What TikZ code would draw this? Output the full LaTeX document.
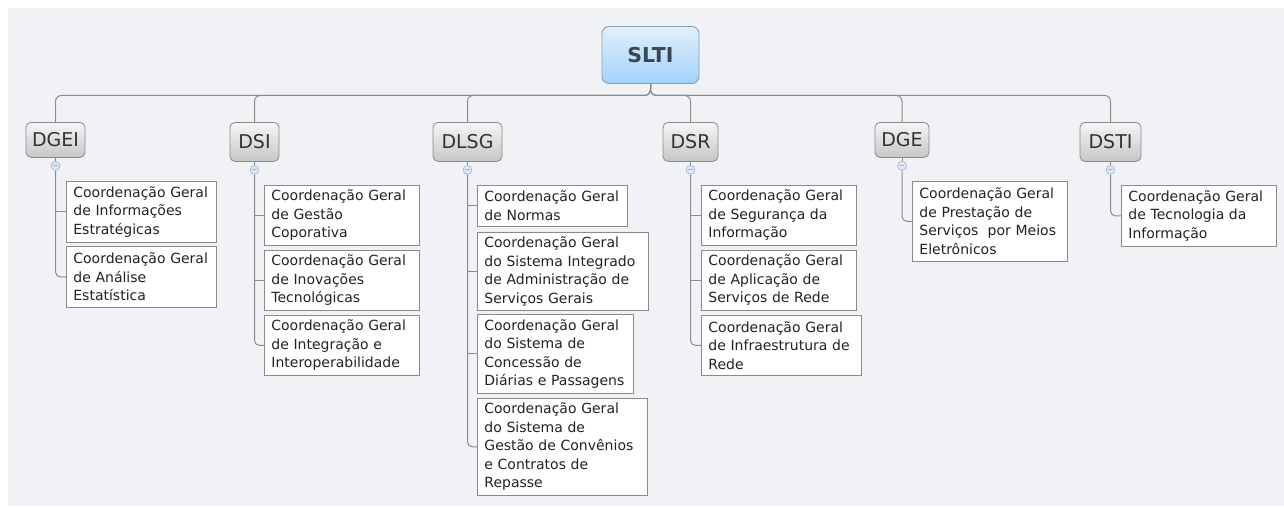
\documentclass[tikz,border=0pt]{standalone}
\usepackage{fontspec}
\setmainfont{DejaVu Sans}
\usetikzlibrary{calc}
\definecolor{bgc}{HTML}{F1F2F6}
\definecolor{linec}{HTML}{8C8C8C}
\definecolor{leafb}{HTML}{8A8A8A}
\definecolor{leaft}{HTML}{222222}
\definecolor{headt}{HTML}{333333}
\definecolor{headtop}{HTML}{F6F6F6}
\definecolor{headbot}{HTML}{C6C6C6}
\definecolor{headb}{HTML}{8A8A8A}
\definecolor{roottop}{HTML}{E0F0FC}
\definecolor{rootbot}{HTML}{A3D2FA}
\definecolor{rootb}{HTML}{8C9FB2}
\definecolor{roott}{HTML}{3A4754}
\definecolor{collf}{HTML}{DCE8F6}
\definecolor{collb}{HTML}{9AB5D6}
\begin{document}
\begin{tikzpicture}[x=1pt,y=-1pt,
  rootbox/.style={draw=rootb, line width=0.9pt, rounded corners=7pt, top color=roottop, bottom color=rootbot,
    minimum width=97pt, minimum height=57pt, inner sep=0pt, text=roott,
    font=\fontsize{20.5pt}{23pt}\selectfont\bfseries},
  headbox/.style={draw=headb, line width=0.8pt, rounded corners=5pt, top color=headtop, bottom color=headbot,
    inner sep=0pt, anchor=north, text=headt, font=\fontsize{19pt}{21pt}\selectfont},
  leaf/.style={draw=leafb, line width=0.8pt, fill=white, anchor=north west, inner xsep=7pt, inner ysep=0pt,
    align=left, text=leaft, font=\fontsize{14pt}{18.5pt}\selectfont},
  conn/.style={draw=linec, line width=1pt},
  coll/.style={circle, draw=collb, fill=collf, line width=0.6pt, minimum size=9pt, inner sep=0pt,
    path picture={\draw[collb, line width=0.8pt] ([xshift=-2.3pt]path picture bounding box.center) -- ([xshift=2.3pt]path picture bounding box.center);}}
]
\useasboundingbox (0,0) rectangle (1284,506);
\fill[white] (0,0) rectangle (1284,506);
\fill[bgc] (8,8) rectangle (1284,506);

% root
\node[rootbox] (root) at (650.5,55) {SLTI};

% headings
\node[headbox, minimum width=59pt, minimum height=35pt] (h1) at (55.5,122) {DGEI};
\node[headbox, minimum width=49pt, minimum height=39pt] (h2) at (254.5,122) {DSI};
\node[headbox, minimum width=69pt, minimum height=39pt] (h3) at (467.5,122) {DLSG};
\node[headbox, minimum width=55pt, minimum height=39pt] (h4) at (690.5,122) {DSR};
\node[headbox, minimum width=54pt, minimum height=35pt] (h5) at (902,122) {DGE};
\node[headbox, minimum width=61pt, minimum height=39pt] (h6) at (1110.5,122) {DSTI};

% root connectors
\foreach \h in {h1,h2,h3,h4,h5,h6}{
  \draw[conn, rounded corners=6pt] (root.south) -- ++(0,11.5) -| (\h.north);
}

% collapse buttons
\foreach \h/\c in {h1/c1,h2/c2,h3/c3,h4/c4,h5/c5,h6/c6}{
  \node[coll] (\c) at ($(\h.south)+(0,8)$) {};
  \draw[conn] (\h.south) -- (\c.north);
}

% DGEI leaves
\node[leaf, text width=136pt, minimum height=61pt] (a1) at (66,181) {Coordenação~Geral\\de~Informações\\Estratégicas};
\node[leaf, text width=136pt, minimum height=61pt] (a2) at (66,246) {Coordenação~Geral\\de~Análise\\Estatística};
% DSI leaves
\node[leaf, text width=141pt, minimum height=60pt] (b1) at (264,185) {Coordenação~Geral\\de~Gestão\\Coporativa};
\node[leaf, text width=141pt, minimum height=60pt] (b2) at (264,250) {Coordenação~Geral\\de~Inovações\\Tecnológicas};
\node[leaf, text width=141pt, minimum height=60pt] (b3) at (264,315) {Coordenação~Geral\\de~Integração~e\\Interoperabilidade};
% DLSG leaves
\node[leaf, text width=136pt, minimum height=41pt] (d1) at (477,185) {Coordenação~Geral\\de~Normas};
\node[leaf, text width=157pt, minimum height=78pt] (d2) at (477,232) {Coordenação~Geral\\do~Sistema~Integrado\\de~Administração~de\\Serviços~Gerais};
\node[leaf, text width=142pt, minimum height=79pt] (d3) at (477,314) {Coordenação~Geral\\do~Sistema~de\\Concessão~de\\Diárias~e~Passagens};
\node[leaf, text width=156pt, minimum height=97pt] (d4) at (477,398) {Coordenação~Geral\\do~Sistema~de\\Gestão~de~Convênios\\e~Contratos~de\\Repasse};
% DSR leaves
\node[leaf, text width=141pt, minimum height=60pt] (r1) at (701,185) {Coordenação~Geral\\de~Segurança~da\\Informação};
\node[leaf, text width=141pt, minimum height=60pt] (r2) at (701,250) {Coordenação~Geral\\de~Aplicação~de\\Serviços~de~Rede};
\node[leaf, text width=146pt, minimum height=60pt] (r3) at (701,315) {Coordenação~Geral\\de~Infraestrutura~de\\Rede};
% DGE leaf
\node[leaf, text width=141pt, minimum height=80pt] (g1) at (912,181) {Coordenação~Geral\\de~Prestação~de\\Serviços~~por~Meios\\Eletrônicos};
% DSTI leaf
\node[leaf, text width=141pt, minimum height=61pt] (t1) at (1121,185) {Coordenação~Geral\\de~Tecnologia~da\\Informação};

% leaf connectors
\draw[conn] (c1.south) |- (a1.west);
\draw[conn, rounded corners=5pt] (c1.south) |- (a2.west);
\draw[conn] (c2.south) |- (b1.west);
\draw[conn] (c2.south) |- (b2.west);
\draw[conn, rounded corners=5pt] (c2.south) |- (b3.west);
\draw[conn] (c3.south) |- (d1.west);
\draw[conn] (c3.south) |- (d2.west);
\draw[conn] (c3.south) |- (d3.west);
\draw[conn, rounded corners=5pt] (c3.south) |- (d4.west);
\draw[conn] (c4.south) |- (r1.west);
\draw[conn] (c4.south) |- (r2.west);
\draw[conn, rounded corners=5pt] (c4.south) |- (r3.west);
\draw[conn, rounded corners=5pt] (c5.south) |- (g1.west);
\draw[conn, rounded corners=5pt] (c6.south) |- (t1.west);
\end{tikzpicture}
\end{document}
